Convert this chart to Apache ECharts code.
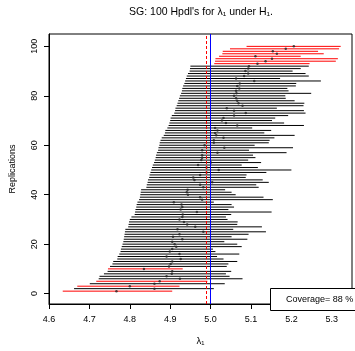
<!DOCTYPE html>
<html>
<head>
<meta charset="utf-8">
<script src="https://cdn.jsdelivr.net/npm/echarts@6/dist/echarts.min.js"></script>
<style>html,body{margin:0;padding:0;background:#fff;}#c{width:355px;height:351px;}</style>
</head>
<body>
<div id="c"></div>
<script>
// Lower HPD limits, replication 1..100 (sorted by lower limit)
const lower = [4.634,4.662,4.670,4.701,4.717,4.723,4.725,4.736,4.745,4.746,
4.751,4.757,4.759,4.769,4.770,4.774,4.777,4.778,4.780,4.782,
4.784,4.785,4.786,4.787,4.788,4.789,4.796,4.797,4.798,4.800,
4.804,4.812,4.813,4.814,4.816,4.817,4.819,4.823,4.825,4.826,
4.827,4.828,4.841,4.842,4.844,4.845,4.848,4.849,4.851,4.853,
4.855,4.857,4.860,4.862,4.864,4.865,4.867,4.870,4.871,4.873,
4.874,4.876,4.879,4.884,4.887,4.888,4.893,4.896,4.898,4.900,
4.901,4.904,4.910,4.912,4.913,4.916,4.918,4.920,4.922,4.924,
4.927,4.929,4.930,4.932,4.935,4.937,4.939,4.941,4.944,4.948,
4.949,4.950,5.009,5.011,5.012,5.021,5.029,5.030,5.048,5.089];
// Upper HPD limits
const upper = [4.905,5.008,4.923,5.035,4.992,5.079,5.047,5.038,5.051,4.931,
5.040,5.044,5.066,5.032,5.016,5.071,5.012,5.006,5.077,5.066,
5.034,5.091,5.052,5.094,5.137,5.056,5.127,5.066,5.067,5.042,
5.038,5.051,5.151,5.044,5.058,5.052,5.008,5.154,5.131,5.062,
5.052,5.036,5.119,5.113,5.144,5.129,5.087,5.089,5.138,5.200,
5.117,5.077,5.125,5.093,5.111,5.105,5.188,5.095,5.204,5.109,
5.144,5.146,5.158,5.208,5.133,5.150,5.103,5.231,5.182,5.152,
5.160,5.192,5.235,5.231,5.164,5.230,5.232,5.208,5.186,5.185,
5.249,5.193,5.190,5.211,5.212,5.273,5.172,5.243,5.235,5.203,
5.223,5.243,5.245,5.310,5.315,5.223,5.280,5.266,5.318,5.322];
// Point estimates
const estimate = [4.767,4.861,4.800,4.861,4.874,4.924,4.891,4.904,4.905,4.835,
4.897,4.901,4.905,4.926,4.891,4.923,4.899,4.905,4.915,4.911,
4.905,4.930,4.907,4.923,4.982,4.918,4.962,4.942,4.934,4.923,
4.930,4.931,4.966,4.926,4.930,4.928,4.909,4.979,4.974,4.944,
4.941,4.943,4.982,4.974,5.004,4.960,4.957,4.974,4.990,5.020,
4.990,4.969,5.001,4.977,4.979,4.979,5.017,4.979,5.034,4.985,
5.008,5.008,5.032,5.014,5.011,5.017,5.011,5.066,5.038,5.028,
5.032,5.058,5.087,5.058,5.040,5.079,5.069,5.066,5.063,5.058,
5.064,5.063,5.071,5.066,5.072,5.108,5.063,5.083,5.093,5.086,
5.093,5.095,5.116,5.136,5.152,5.111,5.164,5.154,5.186,5.206];
const trueValue = 5.0;
const meanLine = 4.991;
const xTicks = [4.6,4.7,4.8,4.9,5.0,5.1,5.2,5.3];
const yTicks = [0,20,40,60,80,100];

const FONT = '"Liberation Sans", Arial, Helvetica, sans-serif';
const intervals = lower.map((l, i) => [l, upper[i], i + 1]);
const points = estimate.map((e, i) => [e, i + 1]);
const covered = intervals.filter(d => d[0] <= trueValue && d[1] >= trueValue).length;
const coverage = Math.round(100 * covered / intervals.length);

const chart = echarts.init(document.getElementById('c'), null, {renderer: 'canvas'});
chart.setOption({
  animation: false,
  backgroundColor: '#fff',
  textStyle: {fontFamily: FONT},
  title: {
    text: 'SG: 100 Hpdl\'s for λ\u2081 under H\u2081.',
    left: 201, top: 7, textAlign: 'center', padding: 0,
    textStyle: {fontSize: 10.5, fontWeight: 'normal', color: '#000', fontFamily: FONT}
  },
  grid: {left: 49, right: -2, top: 34, bottom: 41, show: true, borderColor: '#000', borderWidth: 1, backgroundColor: 'transparent'},
  xAxis: {
    type: 'value', min: 4.6, max: 5.35, interval: 0.1,
    name: 'λ\u2081', nameLocation: 'middle', nameGap: 32,
    nameTextStyle: {fontSize: 9.5, color: '#000', fontFamily: FONT},
    axisLine: {show: true, onZero: false, lineStyle: {color: '#000', width: 1}},
    axisTick: {show: true, length: 5, lineStyle: {color: '#000'}},
    axisLabel: {color: '#000', fontSize: 9, margin: 11, fontFamily: FONT,
      formatter: v => xTicks.some(t => Math.abs(t - v) < 1e-6) ? v.toFixed(1) : ''},
    splitLine: {show: false}
  },
  yAxis: {
    type: 'value', min: -4.2, max: 105,
    name: 'Replications', nameLocation: 'middle', nameGap: 32,
    nameTextStyle: {fontSize: 9, color: '#000', fontFamily: FONT},
    axisLine: {show: true, onZero: false, lineStyle: {color: '#000', width: 1}},
    axisTick: {show: true, length: 5, customValues: yTicks, lineStyle: {color: '#000'}},
    axisLabel: {color: '#000', fontSize: 9, rotate: 90, margin: 10, customValues: yTicks, fontFamily: FONT},
    splitLine: {show: false}
  },
  series: [
    {
      type: 'custom', z: 2, silent: true,
      encode: {x: [0, 1], y: 2},
      data: intervals,
      renderItem: function (params, api) {
        const lo = api.value(0), hi = api.value(1), y = api.value(2);
        const p1 = api.coord([lo, y]);
        const p2 = api.coord([hi, y]);
        const ok = lo <= trueValue && hi >= trueValue;
        return {
          type: 'line',
          shape: {x1: p1[0], y1: p1[1], x2: p2[0], y2: p2[1]},
          style: {stroke: ok ? '#000' : '#ff0000', lineWidth: 1}
        };
      }
    },
    {
      type: 'scatter', z: 3, silent: true,
      data: points, symbol: 'circle', symbolSize: 2.5,
      itemStyle: {color: '#222'},
      markLine: {
        silent: true, symbol: ['none', 'none'], label: {show: false}, z: 5,
        data: [
          {xAxis: meanLine, lineStyle: {color: '#ff0000', type: [3, 2], width: 1}},
          {xAxis: trueValue, lineStyle: {color: '#0000ff', type: 'solid', width: 1}}
        ]
      }
    }
  ],
  graphic: [
    {type: 'rect', z: 100, shape: {x: 270.5, y: 288.5, width: 100, height: 22},
      style: {fill: '#fff', stroke: '#000', lineWidth: 1}},
    {type: 'text', z: 101, x: 286, y: 300,
      style: {text: 'Coverage= ' + coverage + ' %', font: '9px ' + FONT, fill: '#000', textVerticalAlign: 'middle'}}
  ]
});
</script>
</body>
</html>
